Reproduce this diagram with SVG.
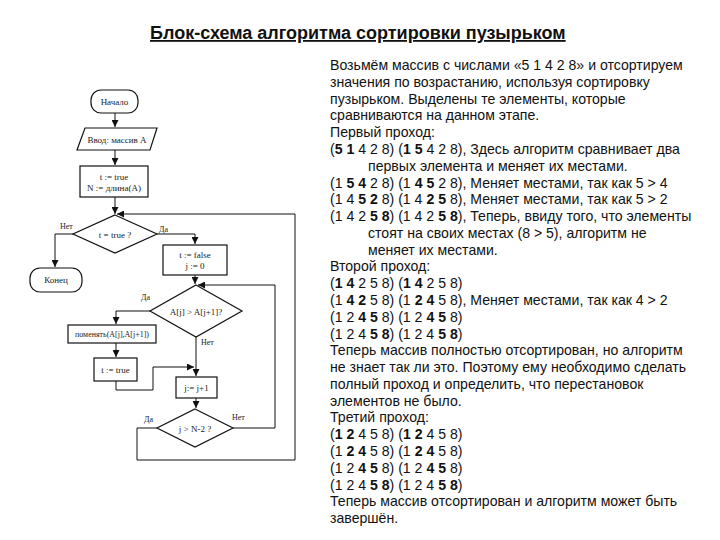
<svg xmlns="http://www.w3.org/2000/svg" width="720" height="540" viewBox="0 0 720 540">
<style>
.fc{font-family:"Liberation Serif","Times New Roman",serif;font-size:9px;fill:#222;text-anchor:middle}
.lb{font-family:"Liberation Serif","Times New Roman",serif;font-size:8px;fill:#222}
.sh{fill:#fff;stroke:#111;stroke-width:1.2}
.cn{fill:none;stroke:#111;stroke-width:1}
.tx{font-family:"Liberation Sans",Arial,sans-serif;font-size:14.1px;fill:#111}
.b{font-weight:bold}
</style>
<defs>
<marker id="ah" viewBox="0 0 8 8" refX="8" refY="4" markerWidth="7" markerHeight="7" markerUnits="userSpaceOnUse" orient="auto">
<path d="M0,0 L8,4 L0,8 z" fill="#111"/>
</marker>
</defs>
<rect width="720" height="540" fill="#fff"/>
<text x="150" y="39" font-family="'Liberation Sans',Arial,sans-serif" font-size="18" font-weight="bold" text-decoration="underline" fill="#111">Блок-схема алгоритма сортировки пузырьком</text>

<g id="connectors">
<path class="cn" d="M115,113 V127" marker-end="url(#ah)"/>
<path class="cn" d="M115,150 V165" marker-end="url(#ah)"/>
<path class="cn" d="M115,197 V214" marker-end="url(#ah)"/>
<path class="cn" d="M73,234 H55 V267" marker-end="url(#ah)"/>
<path class="cn" d="M157,234 H195 V244" marker-end="url(#ah)"/>
<path class="cn" d="M195,275 V284" marker-end="url(#ah)"/>
<path class="cn" d="M150,311 H116 V324" marker-end="url(#ah)"/>
<path class="cn" d="M116,343 V357" marker-end="url(#ah)"/>
<path class="cn" d="M116,381 V390 H153 V367 H194" marker-end="url(#ah)"/>
<path class="cn" d="M196,337 V376" marker-end="url(#ah)"/>
<path class="cn" d="M196,398 V408" marker-end="url(#ah)"/>
<path class="cn" d="M233,428 H275 V285 H198" marker-end="url(#ah)"/>
<path class="cn" d="M157,428 H137 V460 H295 V214 H117" marker-end="url(#ah)"/>
</g>

<g id="start"><rect class="sh" x="91" y="90" width="47" height="23" rx="10"/><text class="fc" x="114.5" y="104.5">Начало</text></g>
<g id="input"><path class="sh" d="M85,128 H157 L150,150 H77 Z"/><text class="fc" x="117" y="142.5">Ввод: массив A</text></g>
<g id="init"><rect class="sh" x="80" y="166" width="68" height="31"/><text class="fc" x="114" y="180">t := true</text><text class="fc" x="114" y="191">N := длина(A)</text></g>
<g id="cond1"><path class="sh" d="M115,215 L157,234 L115,253 L73,234 Z"/><text class="fc" x="115" y="237.5">t = true ?</text></g>
<g id="end"><rect class="sh" x="30" y="268" width="52" height="24" rx="10"/><text class="fc" x="56" y="283">Конец</text></g>
<g id="reset"><rect class="sh" x="163" y="245" width="64" height="30"/><text class="fc" x="195" y="258">t := false</text><text class="fc" x="195" y="269">j := 0</text></g>
<g id="cond2"><path class="sh" d="M196,285 L242,311 L196,337 L150,311 Z"/><text class="fc" x="196" y="314.5">A[j] &gt; A[j+1]?</text></g>
<g id="swap"><rect class="sh" x="68" y="325" width="88" height="18"/><text class="fc" x="112" y="337" textLength="74" lengthAdjust="spacingAndGlyphs">поменять(A[j],A[j+1])</text></g>
<g id="settrue"><rect class="sh" x="94" y="358" width="43" height="23"/><text class="fc" x="115.5" y="372.5">t := true</text></g>
<g id="inc"><rect class="sh" x="176" y="377" width="41" height="21"/><text class="fc" x="196.5" y="390.5">j:= j+1</text></g>
<g id="cond3"><path class="sh" d="M195,409 L233,428 L195,447 L157,428 Z"/><text class="fc" x="195" y="431.5">j &gt; N-2 ?</text></g>

<g id="labels">
<text class="lb" x="60" y="229">Нет</text>
<text class="lb" x="159" y="232">Да</text>
<text class="lb" x="141" y="300">Да</text>
<text class="lb" x="201" y="345">Нет</text>
<text class="lb" x="144" y="422">Да</text>
<text class="lb" x="232" y="420">Нет</text>
</g>

<g id="description" class="tx">
<text x="330" y="70">Возьмём массив с числами «5 1 4 2 8» и отсортируем</text>
<text x="330" y="86.8">значения по возрастанию, используя сортировку</text>
<text x="330" y="103.6">пузырьком. Выделены те элементы, которые</text>
<text x="330" y="120.3">сравниваются на данном этапе.</text>
<text x="330" y="137.1">Первый проход:</text>
<text x="330" y="153.9">(<tspan class="b">5 1</tspan> 4 2 8) (<tspan class="b">1 5</tspan> 4 2 8), Здесь алгоритм сравнивает два</text>
<text x="368" y="170.7">первых элемента и меняет их местами.</text>
<text x="330" y="187.5">(1 <tspan class="b">5 4</tspan> 2 8) (1 <tspan class="b">4 5</tspan> 2 8), Меняет местами, так как 5 &gt; 4</text>
<text x="330" y="204.2">(1 4 <tspan class="b">5 2</tspan> 8) (1 4 <tspan class="b">2 5</tspan> 8), Меняет местами, так как 5 &gt; 2</text>
<text x="330" y="221">(1 4 2 <tspan class="b">5 8</tspan>) (1 4 2 <tspan class="b">5 8</tspan>), Теперь, ввиду того, что элементы</text>
<text x="368" y="237.8">стоят на своих местах (8 &gt; 5), алгоритм не</text>
<text x="368" y="254.6">меняет их местами.</text>
<text x="330" y="271.4">Второй проход:</text>
<text x="330" y="288.1">(<tspan class="b">1 4</tspan> 2 5 8) (<tspan class="b">1 4</tspan> 2 5 8)</text>
<text x="330" y="304.9">(1 <tspan class="b">4 2</tspan> 5 8) (1 <tspan class="b">2 4</tspan> 5 8), Меняет местами, так как 4 &gt; 2</text>
<text x="330" y="321.7">(1 2 <tspan class="b">4 5</tspan> 8) (1 2 <tspan class="b">4 5</tspan> 8)</text>
<text x="330" y="338.5">(1 2 4 <tspan class="b">5 8</tspan>) (1 2 4 <tspan class="b">5 8</tspan>)</text>
<text x="330" y="355.3">Теперь массив полностью отсортирован, но алгоритм</text>
<text x="330" y="372">не знает так ли это. Поэтому ему необходимо сделать</text>
<text x="330" y="388.8">полный проход и определить, что перестановок</text>
<text x="330" y="405.6">элементов не было.</text>
<text x="330" y="422.4">Третий проход:</text>
<text x="330" y="439.2">(<tspan class="b">1 2</tspan> 4 5 8) (<tspan class="b">1 2</tspan> 4 5 8)</text>
<text x="330" y="455.9">(1 <tspan class="b">2 4</tspan> 5 8) (1 <tspan class="b">2 4</tspan> 5 8)</text>
<text x="330" y="472.7">(1 2 <tspan class="b">4 5</tspan> 8) (1 2 <tspan class="b">4 5</tspan> 8)</text>
<text x="330" y="489.5">(1 2 4 <tspan class="b">5 8</tspan>) (1 2 4 <tspan class="b">5 8</tspan>)</text>
<text x="330" y="506.3">Теперь массив отсортирован и алгоритм может быть</text>
<text x="330" y="523.1">завершён.</text>
</g>
</svg>
